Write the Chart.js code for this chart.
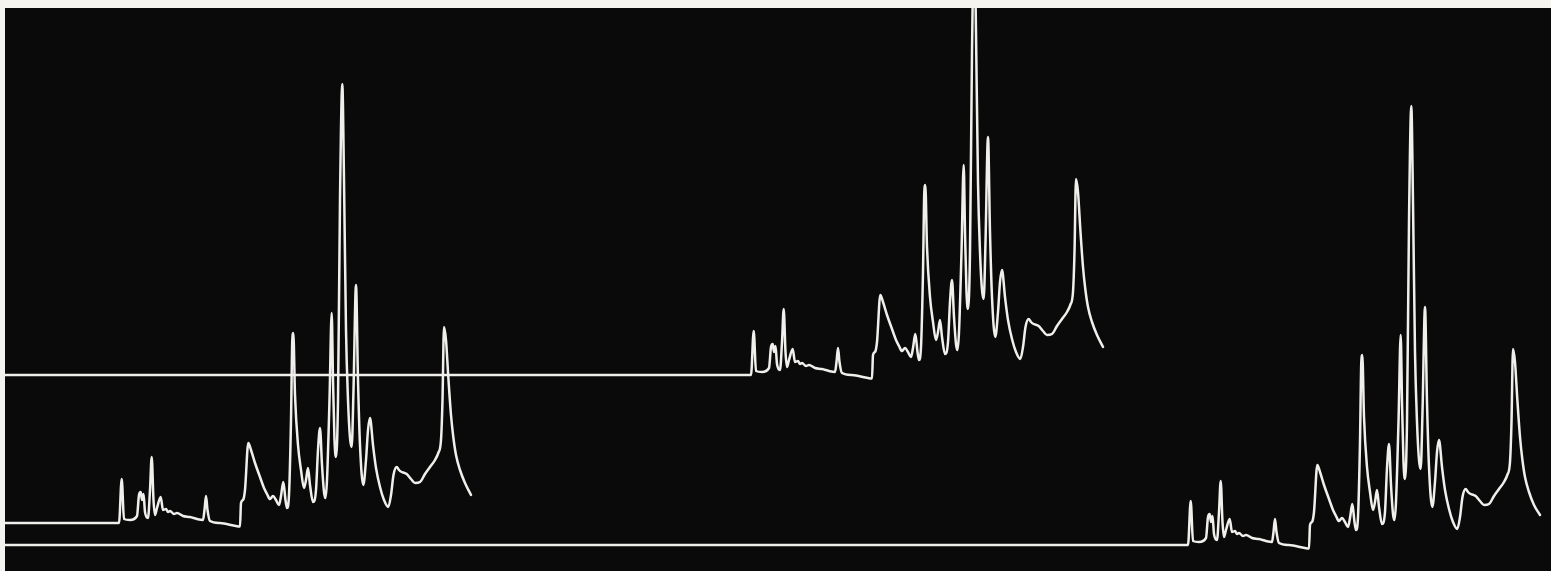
<!DOCTYPE html>
<html>
<head>
<meta charset="utf-8">
<title>Chromatogram traces</title>
<script src="https://cdn.jsdelivr.net/npm/chart.js@4.4.1/dist/chart.umd.min.js"></script>
<style>
  html, body { margin: 0; padding: 0; background: #0b0b0b; }
  #frame {
    width: 1551px; height: 571px; box-sizing: border-box;
    border-top: 8px solid #f5f4ef; border-left: 5px solid #f3f3f0;
    background: #0a0a0a; overflow: hidden;
  }
  canvas { display: block; background: #0a0a0a; }
</style>
</head>
<body>
<div id="frame"><canvas id="chart" width="1546" height="563"></canvas></div>
<script>
// Three recorder runs of the same sample; time in recorder units, response in detector units.

const run1Time = [0, 114, 116.7, 119, 125, 132, 134, 135.7, 137, 138.5, 140, 143, 145, 146.7, 148.5, 150, 152, 155.7, 158, 161, 163, 165, 169, 172, 178, 185, 192, 198, 199.5, 201, 202.5, 205, 215, 231, 235, 236, 238, 240, 243.3, 246, 250, 255, 259, 262, 265, 268, 271, 274, 276, 278.3, 280.5, 282, 284, 286, 287.3, 288.3, 290, 293, 296, 299, 301, 303, 305, 308, 311, 313, 315, 317, 319, 320.5, 322, 324.5, 326.7, 328, 329.5, 331, 333, 335, 337.3, 339, 341, 343, 345, 346.7, 348.5, 351, 353, 355, 358.3, 361, 363, 365, 368, 371, 375, 379, 383.3, 386, 388.5, 391.7, 394, 396.7, 401.7, 406, 410, 415, 420, 425, 430, 433.3, 436, 437.5, 439, 441, 443.3, 446, 448.3, 451, 455, 460, 466];
const run1Signal = [48, 48, 92, 52, 51, 55, 76, 79, 71, 77, 59, 53, 81, 114, 71, 56, 63, 74, 61, 62, 59, 60, 57, 58, 55, 54, 52, 51, 61, 75, 61, 50, 48, 45, 44.5, 68, 71, 81, 128, 121, 108, 94, 83, 77, 72, 75, 71, 66, 75, 89, 71, 63, 76, 151, 231, 238, 176, 126, 101, 83, 91, 103, 86, 69, 81, 121, 143, 106, 79, 73, 91, 171, 258, 191, 131, 114, 171, 371, 487, 391, 241, 171, 133, 124, 181, 286, 191, 126, 86, 111, 141, 153, 126, 103, 84, 71, 64, 76, 96, 104, 101, 99, 97, 92, 88, 89, 97, 104, 111, 118, 131, 171, 244, 231, 194, 156, 134, 116, 101, 88, 76];

const run2Time = [0, 746, 748.7, 751, 757, 764, 766, 767.7, 769, 770.5, 772, 775, 777, 778.7, 780.5, 782, 784, 787.7, 790, 793, 795, 797, 801, 804, 810, 817, 824, 830, 831.5, 833, 834.5, 837, 847, 863, 867, 868, 870, 872, 875.3, 878, 882, 887, 891, 894, 897, 900, 903, 906, 908, 910.3, 912.5, 914, 916, 918, 919.3, 920.3, 922, 925, 928, 931, 933, 935, 937, 940, 943, 945, 947, 949, 951, 952.5, 954, 956.5, 958.7, 960, 961.5, 963, 965, 967, 969.3, 971, 973, 975, 977, 978.7, 980.5, 983, 985, 987, 990.3, 993, 995, 997, 1000, 1003, 1007, 1011, 1015.3, 1018, 1020.5, 1023.7, 1026, 1028.7, 1033.7, 1038, 1042, 1047, 1052, 1057, 1062, 1065.3, 1068, 1069.5, 1071, 1073, 1075.3, 1078, 1080.3, 1083, 1087, 1092, 1098];
const run2Signal = [196, 196, 240, 200, 199, 203, 224, 227, 219, 225, 207, 201, 229, 262, 219, 204, 211, 222, 209, 210, 207, 208, 205, 206, 203, 202, 200, 199, 209, 223, 209, 198, 196, 193, 192.5, 216, 219, 229, 276, 269, 256, 242, 231, 225, 220, 223, 219, 214, 223, 237, 219, 211, 224, 299, 379, 386, 324, 274, 249, 231, 239, 251, 234, 217, 229, 269, 291, 254, 227, 221, 239, 319, 406, 339, 279, 262, 319, 519, 635, 539, 389, 319, 281, 272, 329, 434, 339, 274, 234, 259, 289, 301, 274, 251, 232, 219, 212, 224, 244, 252, 249, 247, 245, 240, 236, 237, 245, 252, 259, 266, 279, 319, 392, 379, 342, 304, 282, 264, 249, 236, 224];

const run3Time = [0, 1183, 1185.7, 1188, 1194, 1201, 1203, 1204.7, 1206, 1207.5, 1209, 1212, 1214, 1215.7, 1217.5, 1219, 1221, 1224.7, 1227, 1230, 1232, 1234, 1238, 1241, 1247, 1254, 1261, 1267, 1268.5, 1270, 1271.5, 1274, 1284, 1300, 1304, 1305, 1307, 1309, 1312.3, 1315, 1319, 1324, 1328, 1331, 1334, 1337, 1340, 1343, 1345, 1347.3, 1349.5, 1351, 1353, 1355, 1356.3, 1357.3, 1359, 1362, 1365, 1368, 1370, 1372, 1374, 1377, 1380, 1382, 1384, 1386, 1388, 1389.5, 1391, 1393.5, 1395.7, 1397, 1398.5, 1400, 1402, 1404, 1406.3, 1408, 1410, 1412, 1414, 1415.7, 1417.5, 1420, 1422, 1424, 1427.3, 1430, 1432, 1434, 1437, 1440, 1444, 1448, 1452.3, 1455, 1457.5, 1460.7, 1463, 1465.7, 1470.7, 1475, 1479, 1484, 1489, 1494, 1499, 1502.3, 1505, 1506.5, 1508, 1510, 1512.3, 1515, 1517.3, 1520, 1524, 1529, 1535];
const run3Signal = [26, 26, 70, 30, 29, 33, 54, 57, 49, 55, 37, 31, 59, 90, 49, 34, 41, 52, 39, 40, 37, 38, 35, 36, 33, 32, 30, 29, 39, 52, 39, 28, 26, 23, 22.5, 46, 49, 59, 106, 99, 86, 72, 61, 55, 50, 53, 49, 44, 53, 67, 49, 41, 54, 129, 209, 216, 154, 104, 79, 61, 69, 81, 64, 47, 59, 103, 127, 86, 57, 51, 69, 149, 236, 169, 109, 92, 149, 349, 465, 369, 219, 149, 111, 102, 159, 264, 169, 104, 64, 89, 119, 131, 104, 81, 62, 49, 42, 54, 74, 82, 79, 77, 75, 70, 66, 67, 75, 82, 89, 96, 109, 149, 222, 209, 172, 134, 112, 94, 79, 66, 56];

const timeRange = [0, 1546];
const responseRange = [0, 563];

const runs = [
  { label: 'Run 1', time: run1Time, signal: run1Signal },
  { label: 'Run 2', time: run2Time, signal: run2Signal },
  { label: 'Run 3', time: run3Time, signal: run3Signal }
];

const traceColor = '#f0efeb';

new Chart(document.getElementById('chart'), {
  type: 'line',
  data: {
    datasets: runs.map(r => ({
      label: r.label,
      data: r.time.map((t, i) => ({ x: t, y: r.signal[i] })),
      borderColor: traceColor,
      borderWidth: 2.5,
      pointRadius: 0,
      fill: false,
      cubicInterpolationMode: 'monotone',
      borderJoinStyle: 'round',
      borderCapStyle: 'round'
    }))
  },
  options: {
    responsive: false,
    animation: false,
    devicePixelRatio: 1,
    layout: { padding: 0 },
    plugins: { legend: { display: false }, tooltip: { enabled: false } },
    scales: {
      x: { type: 'linear', min: timeRange[0], max: timeRange[1], display: false },
      y: { type: 'linear', min: responseRange[0], max: responseRange[1], display: false }
    }
  }
});
</script>
</body>
</html>
